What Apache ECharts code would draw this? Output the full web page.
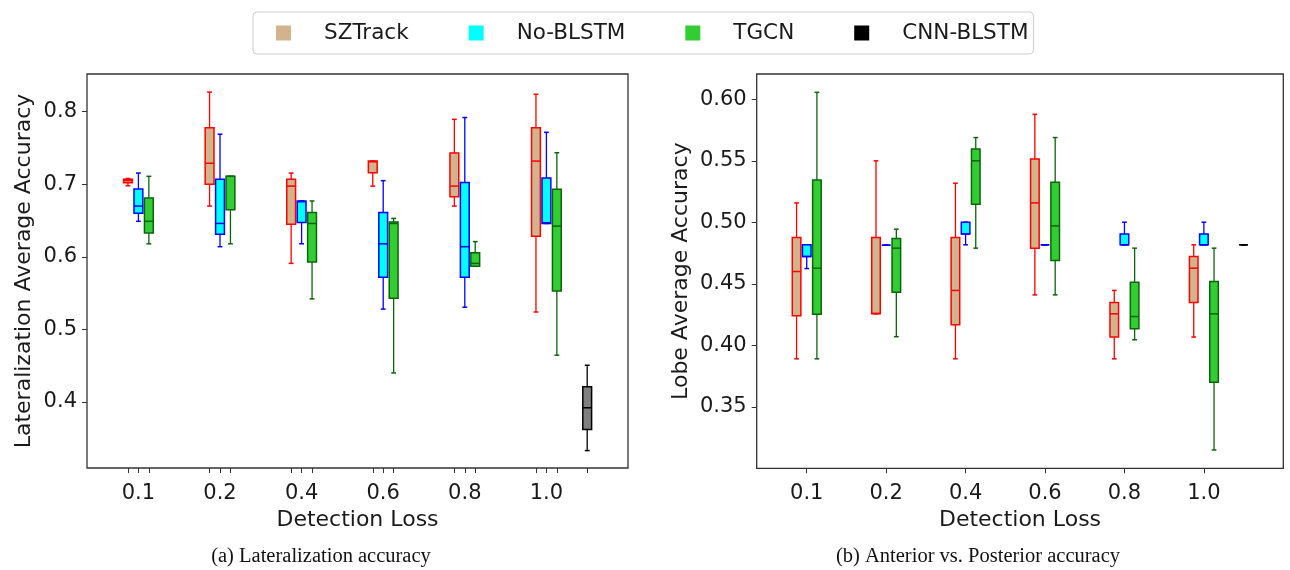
<!DOCTYPE html>
<html><head><meta charset="utf-8">
<script src="https://cdn.jsdelivr.net/npm/echarts@6/dist/echarts.min.js"></script>
<style>html,body{margin:0;padding:0;background:#fff;}#c{width:1290px;height:570px;}</style>
</head><body><div id="c"></div>
<script>
// ---------------- data ----------------
const categories = ['0.1', '0.2', '0.4', '0.6', '0.8', '1.0'];
const seriesNames = ['SZTrack', 'No-BLSTM', 'TGCN', 'CNN-BLSTM'];
const latTicks = [0.4, 0.5, 0.6, 0.7, 0.8];
const lobeTicks = [0.35, 0.40, 0.45, 0.50, 0.55, 0.60];
// each entry: [min, Q1, median, Q3, max]
const latSZTrack = [
  [0.698, 0.702, 0.705, 0.707, 0.708],
  [0.670, 0.700, 0.729, 0.778, 0.827],
  [0.591, 0.645, 0.6975, 0.707, 0.7155],
  [0.6975, 0.716, 0.731, 0.732, 0.732],
  [0.670, 0.683, 0.6975, 0.743, 0.7895],
  [0.524, 0.6285, 0.732, 0.778, 0.824]
];
const latNoBLSTM = [
  [0.649, 0.660, 0.670, 0.6934, 0.7155],
  [0.614, 0.631, 0.646, 0.707, 0.769],
  [0.618, 0.6475, 0.676, 0.677, 0.677],
  [0.528, 0.572, 0.618, 0.661, 0.705],
  [0.5306, 0.572, 0.614, 0.7025, 0.792],
  [0.646, 0.646, 0.647, 0.7085, 0.7716]
];
const latTGCN = [
  [0.618, 0.633, 0.649, 0.681, 0.711],
  [0.618, 0.665, 0.711, 0.711, 0.711],
  [0.542, 0.593, 0.646, 0.661, 0.677],
  [0.440, 0.543, 0.646, 0.648, 0.653],
  [0.587, 0.587, 0.591, 0.6055, 0.621],
  [0.4645, 0.553, 0.6424, 0.693, 0.7435]
];
const latCNNBLSTM = [0.333, 0.362, 0.392, 0.421, 0.4506];

const lobeSZTrack = [
  [0.389, 0.424, 0.460, 0.4876, 0.5158],
  [0.4256, 0.4256, 0.426, 0.4876, 0.550],
  [0.389, 0.4167, 0.4446, 0.4876, 0.5318],
  [0.441, 0.479, 0.5158, 0.5515, 0.5878],
  [0.389, 0.4067, 0.4256, 0.4348, 0.4446],
  [0.4067, 0.4348, 0.4627, 0.4722, 0.4817]
];
const lobeNoBLSTM = [
  [0.4624, 0.4722, 0.4722, 0.4817, 0.4817],
  [0.4814, 0.4814, 0.4814, 0.4814, 0.4814],
  [0.4817, 0.4906, 0.4906, 0.5001, 0.5001],
  [0.4817, 0.4817, 0.4817, 0.4817, 0.4817],
  [0.4817, 0.4817, 0.4817, 0.4906, 0.5001],
  [0.4817, 0.4817, 0.4817, 0.4906, 0.5001]
];
const lobeTGCN = [
  [0.389, 0.4253, 0.4627, 0.5345, 0.6057],
  [0.407, 0.4432, 0.479, 0.4868, 0.4944],
  [0.479, 0.5147, 0.550, 0.5597, 0.5689],
  [0.441, 0.4689, 0.4971, 0.5326, 0.5689],
  [0.4045, 0.4134, 0.4234, 0.4513, 0.479],
  [0.3149, 0.370, 0.4256, 0.4519, 0.479]
];
const lobeCNNBLSTM = [0.4817, 0.4817, 0.4817, 0.4817, 0.4817];

// ---------------- styles / layout ----------------
const styles = {
  'SZTrack':   {fill: '#d2b48c', edge: '#ff0000', legend: '#d2b48c', offset: -0.128},
  'No-BLSTM':  {fill: '#00ffff', edge: '#0000ff', legend: '#00ffff', offset: 0},
  'TGCN':      {fill: '#32cd32', edge: '#0b640b', legend: '#32cd32', offset: 0.128},
  'CNN-BLSTM': {fill: '#808080', edge: '#000000', legend: '#000000', offset: 0}
};
const BOX_W = 0.108;
const FONT = 'DejaVu Sans';
const TXT = '#1a1a1a';

function renderBox(st) {
  return function (params, api) {
    const x = api.value(0);
    const v = [1, 2, 3, 4, 5].map(i => api.value(i));
    const halfW = api.size([BOX_W, 0])[0] / 2;
    const capW = halfW * 0.55;
    const p = v.map(val => api.coord([x, val]));
    const cx = p[0][0];
    const line = (x1, y1, x2, y2, w) => ({type: 'line', shape: {x1, y1, x2, y2}, style: {stroke: st.edge, lineWidth: w}});
    return {type: 'group', children: [
      line(cx, p[0][1], cx, p[1][1], 1.3),
      line(cx, p[3][1], cx, p[4][1], 1.3),
      line(cx - capW, p[0][1], cx + capW, p[0][1], 1.5),
      line(cx - capW, p[4][1], cx + capW, p[4][1], 1.5),
      {type: 'rect', shape: {x: cx - halfW, y: p[3][1], width: 2 * halfW, height: p[1][1] - p[3][1]},
       style: {fill: st.fill, stroke: st.edge, lineWidth: 1.5}},
      line(cx - halfW, p[2][1], cx + halfW, p[2][1], 1.5)
    ]};
  };
}

function makeSeries(gridIdx, groups, cnn) {
  const out = [];
  ['SZTrack', 'No-BLSTM', 'TGCN'].forEach((name, k) => {
    const st = styles[name];
    out.push({
      type: 'custom', name: name, xAxisIndex: gridIdx, yAxisIndex: gridIdx,
      itemStyle: {color: st.legend},
      encode: {x: 0, y: [1, 2, 3, 4, 5]},
      renderItem: renderBox(st),
      data: groups[k].map((d, i) => [i + st.offset].concat(d))
    });
  });
  const st = styles['CNN-BLSTM'];
  out.push({
    type: 'custom', name: 'CNN-BLSTM', xAxisIndex: gridIdx, yAxisIndex: gridIdx,
    itemStyle: {color: st.legend},
    encode: {x: 0, y: [1, 2, 3, 4, 5]},
    renderItem: renderBox(st),
    data: [[categories.length - 0.5].concat(cnn)]
  });
  return out;
}

const catIdx = categories.map((c, i) => i);
const leftTickPos = [];
catIdx.forEach(i => { leftTickPos.push(i - 0.128, i, i + 0.128); });
leftTickPos.push(categories.length - 0.5);

function xAxis(gridIdx, tickPos) {
  return {
    gridIndex: gridIdx, type: 'value', min: -0.63, max: 6.0,
    splitLine: {show: false}, axisLine: {show: false, onZero: false},
    axisTick: {show: true, customValues: tickPos, length: 5, lineStyle: {color: '#333', width: 1}},
    axisLabel: {customValues: catIdx, formatter: v => categories[Math.round(v)],
      fontSize: 21, color: TXT, fontFamily: FONT, margin: 15},
    name: 'Detection Loss', nameLocation: 'middle', nameGap: 40,
    nameTextStyle: {fontSize: 22, color: TXT, fontFamily: FONT}
  };
}
function yAxis(gridIdx, min, max, ticks, digits, name, gap) {
  return {
    gridIndex: gridIdx, type: 'value', min: min, max: max,
    splitLine: {show: false}, axisLine: {show: false, onZero: false},
    axisTick: {show: true, customValues: ticks, length: 5, lineStyle: {color: '#333', width: 1}},
    axisLabel: {customValues: ticks, formatter: v => v.toFixed(digits),
      fontSize: 21, color: TXT, fontFamily: FONT, margin: 10},
    name: name, nameLocation: 'middle', nameGap: gap,
    nameTextStyle: {fontSize: 22, color: TXT, fontFamily: FONT}
  };
}

const chart = echarts.init(document.getElementById('c'), null, {renderer: 'canvas'});
chart.setOption({
  animation: false,
  backgroundColor: '#fff',
  legend: {
    left: 253, top: 12, orient: 'horizontal',
    padding: [10, 5, 10, 23], itemGap: 60, itemWidth: 15, itemHeight: 15, icon: 'rect',
    borderColor: '#cccccc', borderWidth: 1, borderRadius: 4,
    textStyle: {fontSize: 21.5, color: TXT, fontFamily: FONT, padding: [0, 0, 0, 28], lineHeight: 21},
    data: seriesNames.map(n => ({name: n, itemStyle: {color: styles[n].legend, borderWidth: 0}}))
  },
  grid: [
    {left: 87, top: 74, width: 541, height: 394, show: true, borderColor: '#333', borderWidth: 1.3, containLabel: false},
    {left: 756.7, top: 74, width: 526.6, height: 394.3, show: true, borderColor: '#333', borderWidth: 1.3, containLabel: false}
  ],
  xAxis: [xAxis(0, leftTickPos), xAxis(1, catIdx)],
  yAxis: [
    yAxis(0, 0.309, 0.852, latTicks, 1, 'Lateralization Average Accuracy', 52),
    yAxis(1, 0.30, 0.6206, lobeTicks, 2, 'Lobe Average Accuracy', 64)
  ],
  series: makeSeries(0, [latSZTrack, latNoBLSTM, latTGCN], latCNNBLSTM)
    .concat(makeSeries(1, [lobeSZTrack, lobeNoBLSTM, lobeTGCN], lobeCNNBLSTM)),
  graphic: [
    {type: 'text', x: 321, y: 557, style: {text: '(a) Lateralization accuracy',
      textAlign: 'center', textVerticalAlign: 'middle', fontSize: 20.5, fontFamily: 'Liberation Serif', fill: '#111'}},
    {type: 'text', x: 978, y: 557, style: {text: '(b) Anterior vs. Posterior accuracy',
      textAlign: 'center', textVerticalAlign: 'middle', fontSize: 20.5, fontFamily: 'Liberation Serif', fill: '#111'}}
  ]
});
</script>
</body></html>
